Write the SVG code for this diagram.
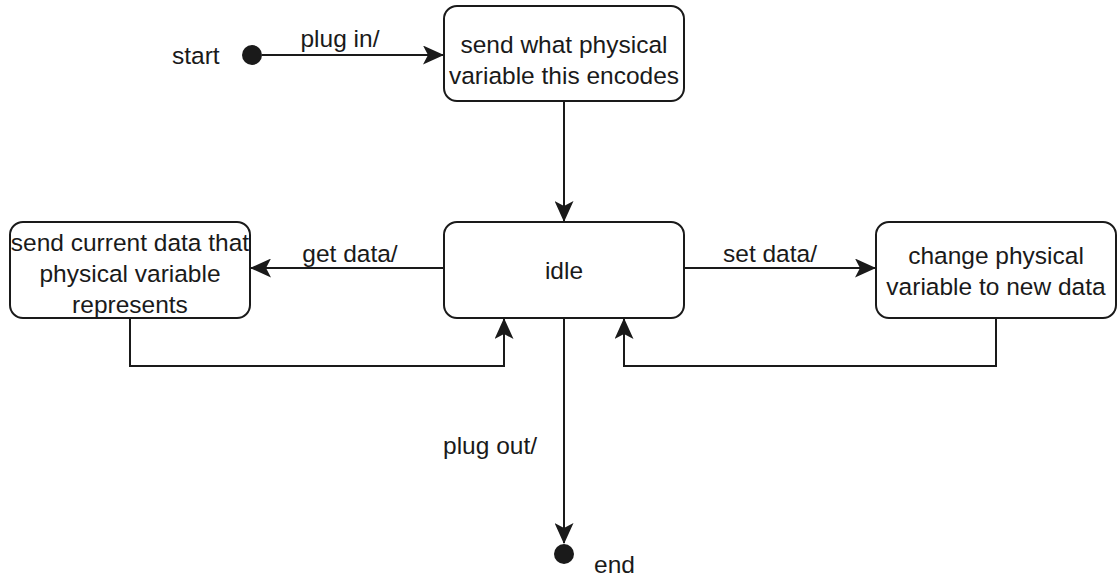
<svg xmlns="http://www.w3.org/2000/svg" width="1117" height="578" viewBox="0 0 1117 578">
  <style>
    .state { fill: #ffffff; stroke: #1a1a1a; stroke-width: 2; }
    .edge { fill: none; stroke: #1a1a1a; stroke-width: 2; }
    .dot { fill: #1a1a1a; }
    text { font-family: "Liberation Sans", Arial, sans-serif; font-size: 24.5px; fill: #1a1a1a; }
    .c { text-anchor: middle; }
  </style>
  <defs>
    <marker id="arrow" markerWidth="21" markerHeight="19" viewBox="0 0 21 19" refX="20" refY="9.5" orient="auto" markerUnits="userSpaceOnUse">
      <path d="M0,0 L21,9.5 L0,19 L5,9.5 Z" fill="#1a1a1a"/>
    </marker>
  </defs>

  <rect width="1117" height="578" fill="#ffffff"/>

  <!-- connectors -->
  <g id="connectors">
    <path class="edge" d="M262,55 L443,55" marker-end="url(#arrow)"/>
    <text class="c" x="340" y="47">plug in/</text>

    <path class="edge" d="M564,101 L564,221" marker-end="url(#arrow)"/>

    <path class="edge" d="M444,268 L251,268" marker-end="url(#arrow)"/>
    <text class="c" x="350" y="262">get data/</text>

    <path class="edge" d="M684,268 L875,268" marker-end="url(#arrow)"/>
    <text class="c" x="770" y="262">set data/</text>

    <path class="edge" d="M130,318 L130,366 L504,366 L504,319" marker-end="url(#arrow)"/>
    <path class="edge" d="M996,318 L996,366 L624,366 L624,319" marker-end="url(#arrow)"/>

    <path class="edge" d="M564,318 L564,543" marker-end="url(#arrow)"/>
    <text class="c" x="490" y="454">plug out/</text>
  </g>

  <!-- initial state -->
  <g id="start">
    <circle class="dot" cx="252" cy="55" r="10"/>
    <text x="172" y="64">start</text>
  </g>

  <!-- final state -->
  <g id="end">
    <circle class="dot" cx="564" cy="554" r="10"/>
    <text x="594" y="573">end</text>
  </g>

  <g id="send-variable">
    <rect class="state" x="444" y="6" width="240" height="95" rx="13"/>
    <text class="c" x="564" y="53">send what physical</text>
    <text class="c" x="564" y="84">variable this encodes</text>
  </g>

  <g id="idle">
    <rect class="state" x="444" y="222" width="240" height="96" rx="13"/>
    <text class="c" x="564" y="279">idle</text>
  </g>

  <g id="send-current-data">
    <rect class="state" x="10" y="222" width="240" height="96" rx="13"/>
    <text class="c" x="130" y="251">send current data that</text>
    <text class="c" x="130" y="282">physical variable</text>
    <text class="c" x="130" y="313">represents</text>
  </g>

  <g id="change-variable">
    <rect class="state" x="876" y="222" width="240" height="96" rx="13"/>
    <text class="c" x="996" y="264">change physical</text>
    <text class="c" x="996" y="295">variable to new data</text>
  </g>
</svg>
